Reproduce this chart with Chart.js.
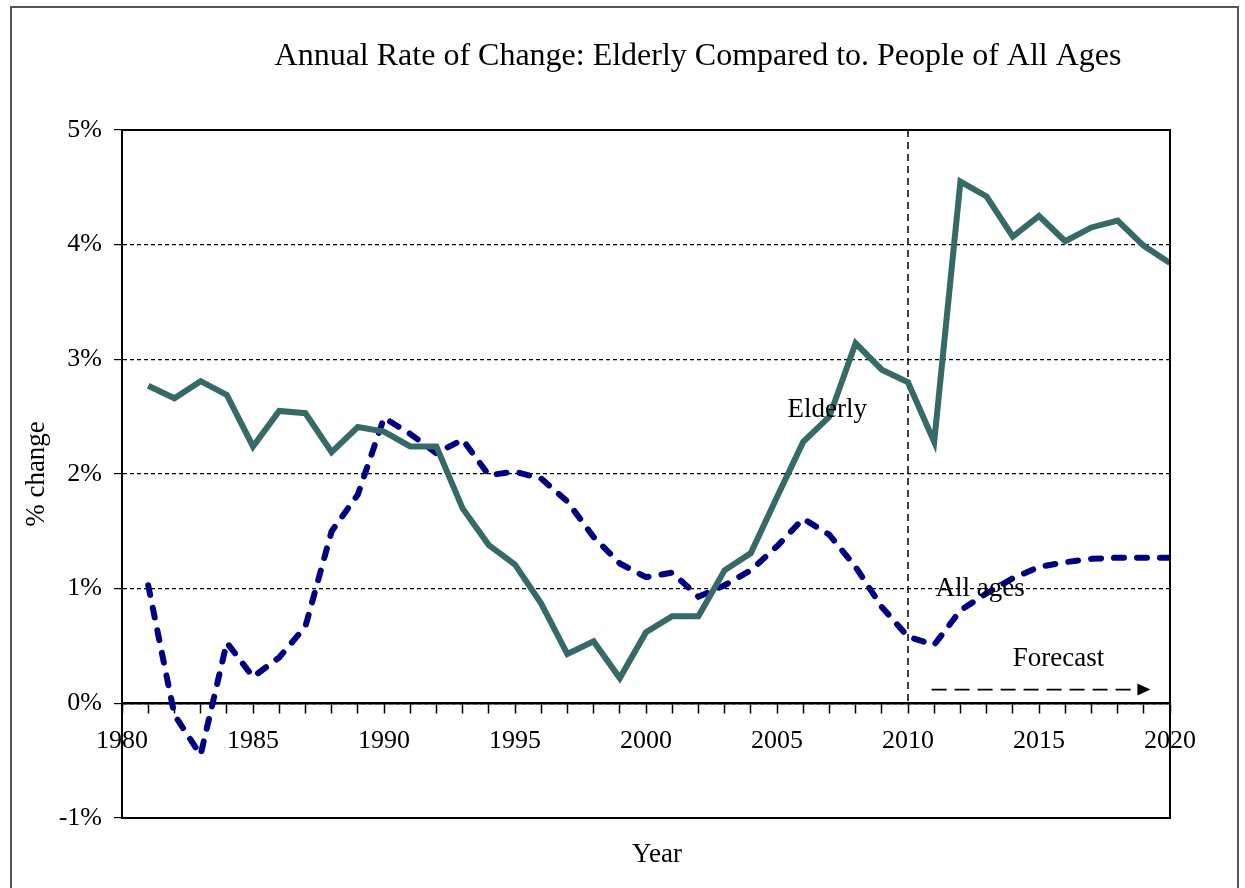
<!DOCTYPE html>
<html>
<head>
    <title>Annual Rate of Change</title>
    <script src="https://cdn.jsdelivr.net/npm/chart.js"></script>
    <style>
        body { margin: 0; background: #fff; }
        #wrap { position: relative; width: 1245px; height: 888px; }
        #frame { position: absolute; left: 10px; top: 6px; width: 1229px; height: 900px;
                 border: 2px solid #555; box-sizing: border-box; pointer-events: none; }
    </style>
</head>
<body>
<div id="wrap">
    <canvas id="rateChart" width="1245" height="888"></canvas>
    <div id="frame"></div>
</div>
<script>
    // years and the two series (% change per year)
    const years = [1981,1982,1983,1984,1985,1986,1987,1988,1989,1990,
                   1991,1992,1993,1994,1995,1996,1997,1998,1999,2000,
                   2001,2002,2003,2004,2005,2006,2007,2008,2009,2010,
                   2011,2012,2013,2014,2015,2016,2017,2018,2019,2020];
    const elderly = [2.77,2.66,2.81,2.69,2.24,2.55,2.53,2.19,2.41,2.37,
                     2.24,2.24,1.70,1.38,1.21,0.87,0.43,0.54,0.22,0.62,
                     0.76,0.76,1.16,1.31,1.80,2.28,2.50,3.14,2.91,2.80,
                     2.28,4.55,4.42,4.07,4.25,4.03,4.15,4.21,3.99,3.84];
    const allAges = [1.03,-0.10,-0.45,0.53,0.23,0.40,0.67,1.50,1.82,2.49,
                     2.35,2.18,2.30,1.99,2.02,1.96,1.76,1.45,1.22,1.10,
                     1.14,0.93,1.03,1.16,1.37,1.61,1.47,1.19,0.84,0.58,
                     0.51,0.81,0.96,1.09,1.19,1.23,1.26,1.27,1.27,1.27];
    const forecastStart = 2010;

    const serif = '"Liberation Serif", "Times New Roman", serif';

    // texts, dashed 2010 line, forecast arrow and the plot frame
    const extras = {
        id: 'extras',
        beforeDatasetsDraw(chart) {
            const { ctx, scales: { x, y } } = chart;
            ctx.save();
            ctx.strokeStyle = '#000';
            ctx.lineWidth = 1.5;
            ctx.setLineDash([7, 5]);
            const fx = x.getPixelForValue(forecastStart);
            ctx.beginPath();
            ctx.moveTo(fx, y.getPixelForValue(5));
            ctx.lineTo(fx, y.getPixelForValue(0));
            ctx.stroke();
            ctx.restore();
        },
        afterDraw(chart) {
            const { ctx, chartArea: a, scales: { x, y } } = chart;
            ctx.save();
            // plot frame
            ctx.strokeStyle = '#000';
            ctx.lineWidth = 2;
            ctx.strokeRect(a.left, a.top, a.right - a.left, a.bottom - a.top);

            ctx.fillStyle = '#000';
            ctx.textBaseline = 'middle';
            ctx.font = '32px ' + serif;
            ctx.textAlign = 'center';
            ctx.fillText('Annual Rate of Change: Elderly Compared to. People of All Ages', 698, 57);
            ctx.font = '27px ' + serif;
            ctx.fillText('Year', 657, 855);

            ctx.save();
            ctx.translate(37, (a.top + a.bottom) / 2);
            ctx.rotate(-Math.PI / 2);
            ctx.fillText('% change', 0, 0);
            ctx.restore();

            ctx.textAlign = 'left';
            ctx.fillText('Elderly', x.getPixelForValue(2005.4), y.getPixelForValue(2.56));
            ctx.fillText('All ages', x.getPixelForValue(2011.05), y.getPixelForValue(1.0));
            ctx.fillText('Forecast', x.getPixelForValue(2014.0), y.getPixelForValue(0.39));

            // forecast arrow
            const ay = y.getPixelForValue(0.12);
            const x0 = x.getPixelForValue(2010.9), x1 = x.getPixelForValue(2019.25);
            ctx.lineWidth = 1.8;
            ctx.setLineDash([15, 8]);
            ctx.beginPath();
            ctx.moveTo(x0, ay);
            ctx.lineTo(x1 - 10, ay);
            ctx.stroke();
            ctx.setLineDash([]);
            ctx.beginPath();
            ctx.moveTo(x1, ay);
            ctx.lineTo(x1 - 13, ay - 6);
            ctx.lineTo(x1 - 13, ay + 6);
            ctx.closePath();
            ctx.fill();
            ctx.restore();
        }
    };

    const ctx = document.getElementById('rateChart').getContext('2d');
    new Chart(ctx, {
        type: 'line',
        data: {
            datasets: [{
                label: 'Elderly',
                data: years.map((yr, i) => ({ x: yr, y: elderly[i] })),
                borderColor: '#356a67',
                borderWidth: 6,
                pointRadius: 0,
                tension: 0,
                fill: false
            }, {
                label: 'All ages',
                data: years.map((yr, i) => ({ x: yr, y: allAges[i] })),
                borderColor: '#000080',
                borderWidth: 6,
                borderDash: [10, 13],
                borderCapStyle: 'round',
                pointRadius: 0,
                tension: 0,
                fill: false
            }]
        },
        options: {
            responsive: false,
            animation: false,
            layout: { padding: { left: 0, top: 130, right: 75, bottom: 70 } },
            plugins: { legend: { display: false }, tooltip: { enabled: false } },
            scales: {
                x: {
                    type: 'linear',
                    position: { y: 0 },
                    min: 1980,
                    max: 2020,
                    ticks: {
                        stepSize: 1,
                        autoSkip: false,
                        maxRotation: 0,
                        padding: 13,
                        color: '#000',
                        font: { family: serif, size: 26 },
                        callback: v => (v % 5 === 0 ? String(v) : '')
                    },
                    grid: { drawOnChartArea: false, tickLength: 9, color: '#000', tickWidth: 1.5 },
                    border: { color: '#000', width: 2.5 }
                },
                y: {
                    min: -1,
                    max: 5,
                    afterFit: s => { s.width = 122; },
                    ticks: {
                        stepSize: 1,
                        padding: 12,
                        color: '#000',
                        font: { family: serif, size: 26 },
                        callback: v => v + '%'
                    },
                    grid: { color: '#000', lineWidth: 1.2, tickLength: 8 },
                    border: { color: '#000', width: 2, dash: [4, 3] }
                }
            }
        },
        plugins: [extras]
    });
</script>
</body>
</html>
